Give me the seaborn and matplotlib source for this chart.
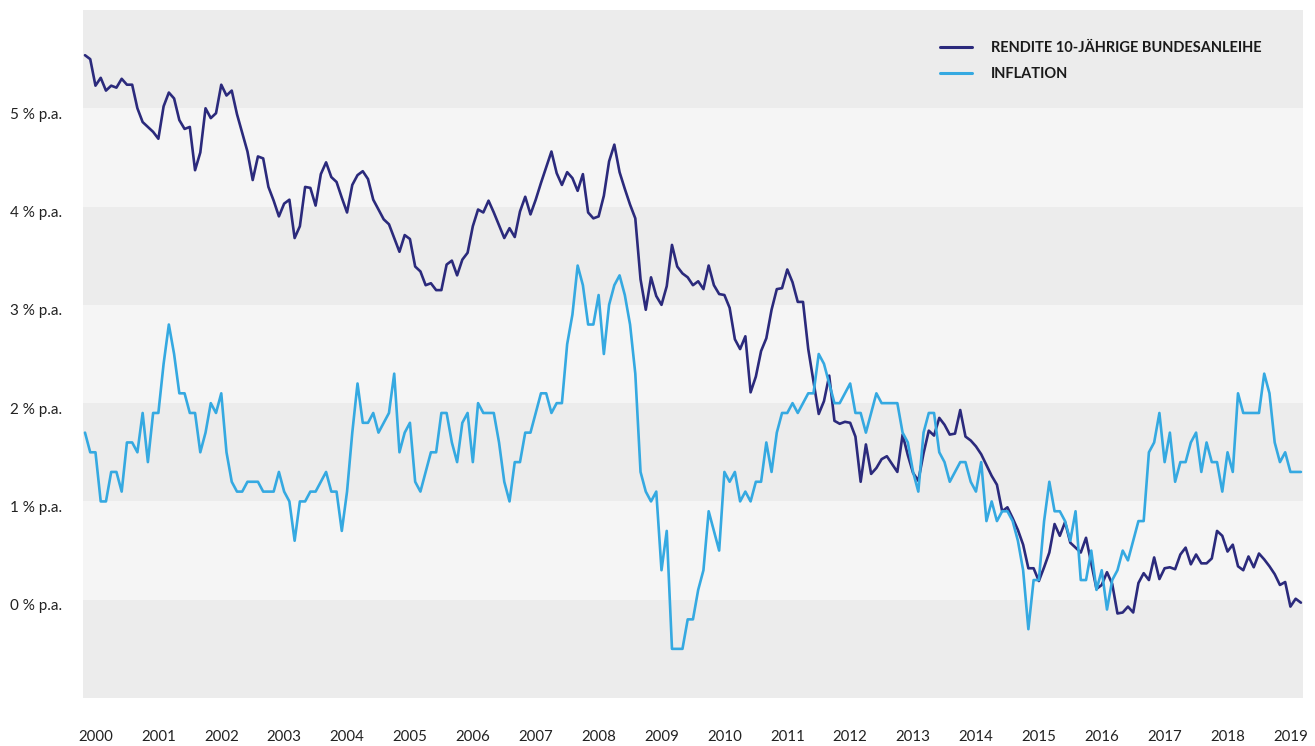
import numpy as np
import pandas as pd
import seaborn as sns
import matplotlib.pyplot as plt
from matplotlib.transforms import ScaledTranslation

# Monatswerte Jan 2000 - Mai 2019
years = list(range(2000, 2020))
series_names = ["RENDITE 10-JÄHRIGE BUNDESANLEIHE", "INFLATION"]

bund_yield = [
    5.54, 5.50, 5.23, 5.31, 5.18, 5.23, 5.21, 5.30, 5.24, 5.24, 5.00, 4.86,
    4.81, 4.76, 4.69, 5.02, 5.16, 5.10, 4.88, 4.79, 4.81, 4.37, 4.55, 5.00,
    4.90, 4.95, 5.24, 5.13, 5.18, 4.94, 4.75, 4.56, 4.27, 4.51, 4.49, 4.20,
    4.06, 3.90, 4.03, 4.07, 3.68, 3.80, 4.20, 4.19, 4.01, 4.33, 4.45, 4.30,
    4.25, 4.09, 3.94, 4.22, 4.32, 4.36, 4.28, 4.07, 3.97, 3.87, 3.82, 3.68,
    3.54, 3.71, 3.67, 3.39, 3.34, 3.20, 3.22, 3.15, 3.15, 3.41, 3.45, 3.30,
    3.46, 3.53, 3.80, 3.97, 3.94, 4.06, 3.94, 3.81, 3.68, 3.78, 3.69, 3.95,
    4.10, 3.92, 4.07, 4.24, 4.40, 4.56, 4.34, 4.22, 4.35, 4.29, 4.16, 4.33,
    3.94, 3.88, 3.90, 4.11, 4.46, 4.63, 4.35, 4.18, 4.02, 3.88, 3.26, 2.95,
    3.28, 3.09, 3.00, 3.19, 3.61, 3.39, 3.32, 3.28, 3.20, 3.24, 3.16, 3.40,
    3.20, 3.11, 3.10, 2.97, 2.65, 2.55, 2.68, 2.11, 2.27, 2.53, 2.66, 2.95,
    3.16, 3.17, 3.36, 3.23, 3.03, 3.03, 2.55, 2.22, 1.89, 2.02, 2.28, 1.82,
    1.79, 1.81, 1.80, 1.66, 1.20, 1.58, 1.28, 1.34, 1.43, 1.46, 1.38, 1.30,
    1.68, 1.47, 1.29, 1.21, 1.49, 1.72, 1.67, 1.85, 1.78, 1.68, 1.69, 1.93,
    1.66, 1.62, 1.56, 1.48, 1.37, 1.26, 1.17, 0.90, 0.94, 0.83, 0.71, 0.56,
    0.32, 0.32, 0.19, 0.33, 0.48, 0.77, 0.65, 0.79, 0.58, 0.53, 0.48, 0.63,
    0.37, 0.11, 0.15, 0.28, 0.16, -0.14, -0.13, -0.07, -0.13, 0.17, 0.27, 0.20,
    0.43, 0.21, 0.32, 0.33, 0.31, 0.46, 0.53, 0.36, 0.46, 0.37, 0.37, 0.42,
    0.70, 0.65, 0.49, 0.56, 0.34, 0.30, 0.44, 0.33, 0.47, 0.41, 0.34, 0.26,
    0.15, 0.18, -0.07, 0.01, -0.03,
]

inflation = [
    1.7, 1.5, 1.5, 1.0, 1.0, 1.3, 1.3, 1.1, 1.6, 1.6, 1.5, 1.9,
    1.4, 1.9, 1.9, 2.4, 2.8, 2.5, 2.1, 2.1, 1.9, 1.9, 1.5, 1.7,
    2.0, 1.9, 2.1, 1.5, 1.2, 1.1, 1.1, 1.2, 1.2, 1.2, 1.1, 1.1,
    1.1, 1.3, 1.1, 1.0, 0.6, 1.0, 1.0, 1.1, 1.1, 1.2, 1.3, 1.1,
    1.1, 0.7, 1.1, 1.7, 2.2, 1.8, 1.8, 1.9, 1.7, 1.8, 1.9, 2.3,
    1.5, 1.7, 1.8, 1.2, 1.1, 1.3, 1.5, 1.5, 1.9, 1.9, 1.6, 1.4,
    1.8, 1.9, 1.4, 2.0, 1.9, 1.9, 1.9, 1.6, 1.2, 1.0, 1.4, 1.4,
    1.7, 1.7, 1.9, 2.1, 2.1, 1.9, 2.0, 2.0, 2.6, 2.9, 3.4, 3.2,
    2.8, 2.8, 3.1, 2.5, 3.0, 3.2, 3.3, 3.1, 2.8, 2.3, 1.3, 1.1,
    1.0, 1.1, 0.3, 0.7, -0.5, -0.5, -0.5, -0.2, -0.2, 0.1, 0.3, 0.9,
    0.7, 0.5, 1.3, 1.2, 1.3, 1.0, 1.1, 1.0, 1.2, 1.2, 1.6, 1.3,
    1.7, 1.9, 1.9, 2.0, 1.9, 2.0, 2.1, 2.1, 2.5, 2.4, 2.2, 2.0,
    2.0, 2.1, 2.2, 1.9, 1.9, 1.7, 1.9, 2.1, 2.0, 2.0, 2.0, 2.0,
    1.7, 1.6, 1.3, 1.1, 1.7, 1.9, 1.9, 1.5, 1.4, 1.2, 1.3, 1.4,
    1.4, 1.2, 1.1, 1.4, 0.8, 1.0, 0.8, 0.9, 0.9, 0.8, 0.6, 0.3,
    -0.3, 0.2, 0.2, 0.8, 1.2, 0.9, 0.9, 0.8, 0.6, 0.9, 0.2, 0.2,
    0.5, 0.1, 0.3, -0.1, 0.2, 0.3, 0.5, 0.4, 0.6, 0.8, 0.8, 1.5,
    1.6, 1.9, 1.4, 1.7, 1.2, 1.4, 1.4, 1.6, 1.7, 1.3, 1.6, 1.4,
    1.4, 1.1, 1.5, 1.3, 2.1, 1.9, 1.9, 1.9, 1.9, 2.3, 2.1, 1.6,
    1.4, 1.5, 1.3, 1.3, 1.3,
]

y_levels = [0, 1, 2, 3, 4, 5]
colors = ["#2b2a7c", "#35a9e1"]

months = np.arange(len(bund_yield))
df = pd.DataFrame({
    "Monat": np.concatenate([months, months]),
    "Wert": bund_yield + inflation,
    "Reihe": [series_names[0]] * len(bund_yield) + [series_names[1]] * len(inflation),
})

sns.set_theme(style="white")
plt.rcParams["font.family"] = ["Lato", "DejaVu Sans"]

fig = plt.figure(figsize=(13.15, 7.46), dpi=100)
ax = fig.add_axes([83 / 1315, 48 / 746, 1220 / 1315, 688 / 746])

# Hintergrundbänder je 1 %-Punkt
for lo in range(-1, 6):
    ax.axhspan(lo, lo + 1, color="#ececec" if lo % 2 else "#f5f5f5", lw=0, zorder=0)

sns.lineplot(data=df, x="Monat", y="Wert", hue="Reihe", palette=colors,
             estimator=None, linewidth=1.9, ax=ax)

ax.set_xlim(-0.38, 232.4)
ax.set_ylim(-1, 6)
for s in ax.spines.values():
    s.set_visible(False)
ax.set_xlabel("")
ax.set_ylabel("")

ax.set_yticks(y_levels)
ax.set_yticklabels([f"{v} % p.a." for v in y_levels])
ax.tick_params(axis="y", length=0, pad=52.6, labelsize=11, labelcolor="#222222")
offset = ScaledTranslation(0, -0.05, fig.dpi_scale_trans)
for lab in ax.get_yticklabels():
    lab.set_horizontalalignment("left")
    lab.set_transform(lab.get_transform() + offset)

ax.set_xticks([12 * k + 2 for k in range(len(years))])
ax.set_xticklabels([str(y) for y in years])
ax.tick_params(axis="x", length=0, pad=23, labelsize=10.8, labelcolor="#222222")

handles, labels = ax.get_legend_handles_labels()
leg = ax.legend(handles, labels, loc="upper left", bbox_to_anchor=(0.7025, 0.955),
                frameon=False, prop={"weight": "bold", "size": 10.5},
                handlelength=2.2, handletextpad=1.3, labelspacing=0.85,
                borderpad=0, borderaxespad=0)
for t in leg.get_texts():
    t.set_color("#1a1a1a")
for h in leg.get_lines():
    h.set_linewidth(2.2)

fig.savefig("out.png", dpi=100)
